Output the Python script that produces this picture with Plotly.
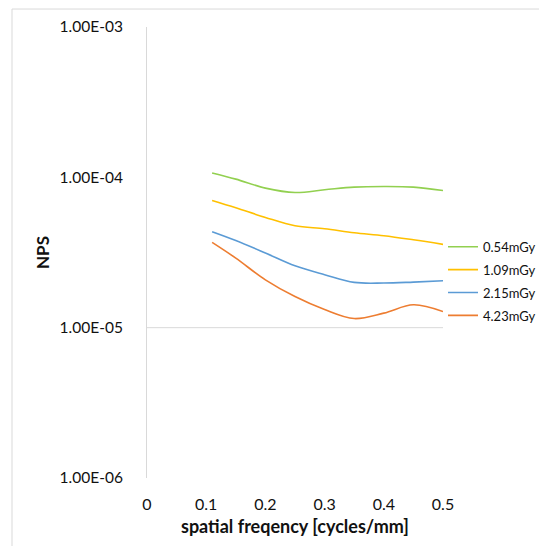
import plotly.graph_objects as go

freq = [0.11, 0.15, 0.2, 0.25, 0.3, 0.35, 0.4, 0.45, 0.5]
nps_054 = [1.07e-4, 9.73e-5, 8.48e-5, 7.93e-5, 8.26e-5, 8.61e-5, 8.69e-5, 8.61e-5, 8.17e-5]
nps_109 = [7.01e-5, 6.27e-5, 5.41e-5, 4.76e-5, 4.55e-5, 4.28e-5, 4.09e-5, 3.84e-5, 3.58e-5]
nps_215 = [4.35e-5, 3.80e-5, 3.14e-5, 2.58e-5, 2.25e-5, 2.00e-5, 1.98e-5, 2.01e-5, 2.05e-5]
nps_423 = [3.69e-5, 2.90e-5, 2.08e-5, 1.61e-5, 1.32e-5, 1.15e-5, 1.25e-5, 1.42e-5, 1.28e-5]

series_names = ["0.54mGy", "1.09mGy", "2.15mGy", "4.23mGy"]
series_vals = [nps_054, nps_109, nps_215, nps_423]
colors = ["#92D050", "#FFC000", "#5B9BD5", "#ED7D31"]

x_ticks = [0, 0.1, 0.2, 0.3, 0.4, 0.5]
y_ticks = [1e-6, 1e-5, 1e-4, 1e-3]
y_ticktext = ["1.00E-06", "1.00E-05", "1.00E-04", "1.00E-03"]

FONT = "Lato, 'Open Sans', sans-serif"
TXT = "#111111"

fig = go.Figure()
for name, vals, c in zip(series_names, series_vals, colors):
    fig.add_trace(go.Scatter(
        x=freq, y=vals, name=name, mode="lines",
        line=dict(color=c, width=1.6, shape="spline", smoothing=1.0),
        legendgroup=name,
    ))

# page body has an 8px margin: figure coords = screen coords - 8
OFF = 8
W, H = 547 - OFF, 546 - OFF
L, R, T, B = 147 - OFF, 443 - OFF, 27 - OFF, 478.5 - OFF

fig.update_layout(
    width=W, height=H,
    margin=dict(l=L, r=W - R, t=T, b=H - B, pad=0, autoexpand=False),
    paper_bgcolor="white", plot_bgcolor="white",
    font=dict(family=FONT, size=16, color=TXT),
    showlegend=True,
    legend=dict(
        x=(443 - OFF - L) / (R - L), xanchor="left",
        y=(B - (232 - OFF)) / (B - T), yanchor="top",
        font=dict(family=FONT, size=13, color=TXT),
        traceorder="grouped", tracegroupgap=3,
        bgcolor="rgba(0,0,0,0)", itemwidth=30,
    ),
    xaxis=dict(
        range=[0, 0.5], tickvals=x_ticks,
        ticktext=[str(v) for v in x_ticks],
        showgrid=False, zeroline=False, showline=False,
        ticks="", ticklabelstandoff=15, automargin=False,
        title=dict(text="<b>spatial freqency [cycles/mm]</b>", standoff=8,
                   font=dict(family=FONT, size=18, color=TXT)),
        tickfont=dict(family=FONT, size=16, color=TXT),
        fixedrange=True,
    ),
    yaxis=dict(
        type="log", range=[-6, -3], tickvals=y_ticks, ticktext=y_ticktext,
        showgrid=False, zeroline=False,
        showline=True, linecolor="#d9d9d9", linewidth=1,
        ticks="", ticklabelstandoff=20, automargin=False,
        title=dict(text="<b>NPS</b>", standoff=5,
                   font=dict(family=FONT, size=17, color=TXT)),
        tickfont=dict(family=FONT, size=15.5, color=TXT),
        fixedrange=True,
    ),
    shapes=[
        # horizontal axis crossing at 1E-05
        dict(type="line", xref="paper", yref="paper", x0=0, x1=1,
             y0=1 / 3, y1=1 / 3, line=dict(color="#d9d9d9", width=1)),
        # chart area border
        dict(type="rect", xref="paper", yref="paper",
             x0=(12 - OFF - L) / (R - L), x1=(620 - L) / (R - L),
             y0=(B - 620) / (B - T), y1=(B - (9 - OFF)) / (B - T),
             line=dict(color="#d9d9d9", width=1), layer="below"),
    ],
)

fig.write_html("out.html")
